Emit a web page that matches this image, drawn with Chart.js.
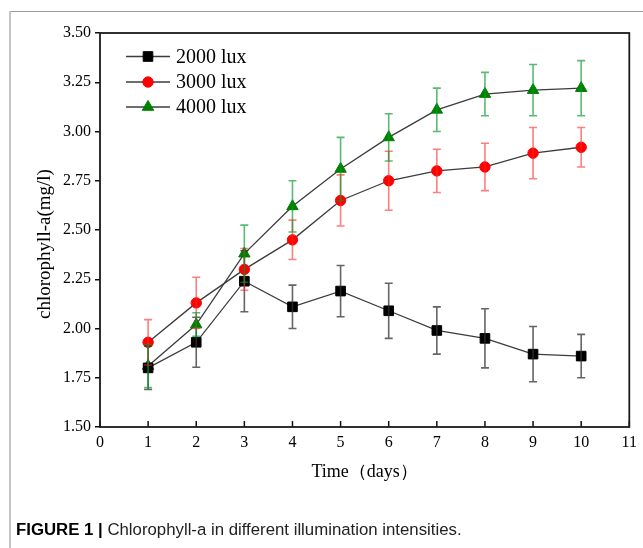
<!DOCTYPE html>
<html>
<head>
<meta charset="utf-8">
<script src="https://cdn.jsdelivr.net/npm/chart.js@4.4.1/dist/chart.umd.min.js"></script>
<style>
  html, body { margin: 0; padding: 0; background: #fff; }
  #wrap { position: relative; width: 643px; height: 548px; overflow: hidden; }
  #c { position: absolute; left: 0; top: 0; }
  #frameTop { position: absolute; left: 10px; top: 11px; width: 633px; height: 0; border-top: 1px solid #9a9a9a; }
  #frameLeft { position: absolute; left: 9px; top: 11px; width: 0; height: 537px; border-left: 2px solid #c4c4c4; }
  #caption { position: absolute; left: 16px; top: 520px; font-family: "Liberation Sans", Arial, sans-serif; font-size: 16.8px; color: #222; white-space: nowrap; }
  #caption b { color: #000; }
</style>
</head>
<body>
<div id="wrap">
  <canvas id="c" width="643" height="548"></canvas>
  <div id="frameTop"></div>
  <div id="frameLeft"></div>
  <div id="caption"><b>FIGURE 1 |</b> Chlorophyll-a in different illumination intensities.</div>
</div>
<script>
// ---- data ----
const days = [1, 2, 3, 4, 5, 6, 7, 8, 9, 10];
const seriesNames = ["2000 lux", "3000 lux", "4000 lux"];
const lux2000 = [1.80, 1.93, 2.24, 2.11, 2.19, 2.09, 1.99, 1.95, 1.87, 1.86];
const err2000 = [0.11, 0.127, 0.155, 0.11, 0.13, 0.14, 0.12, 0.15, 0.14, 0.11];
const lux3000 = [1.93, 2.13, 2.30, 2.45, 2.65, 2.75, 2.80, 2.82, 2.89, 2.92];
const err3000 = [0.115, 0.13, 0.106, 0.10, 0.13, 0.15, 0.11, 0.12, 0.13, 0.10];
const lux4000 = [1.81, 2.02, 2.38, 2.62, 2.81, 2.97, 3.11, 3.19, 3.21, 3.22];
const err4000 = [0.11, 0.06, 0.145, 0.13, 0.16, 0.12, 0.11, 0.11, 0.13, 0.14];
const xTitle = "Time\uFF08days\uFF09";
const yTitle = "chlorophyll-a(mg/l)";

const SERIF = "'Liberation Serif', 'Times New Roman', serif";
const markerColors = ["#000000", "#ff0000", "#008000"];
const markerStyles = ["rect", "circle", "triangle"];
const markerRadius = [6.8, 5.2, 6.6];
const errColors = ["rgba(50,50,50,0.75)", "rgba(255,40,40,0.6)", "rgba(0,150,40,0.65)"];
const values = [lux2000, lux3000, lux4000];
const errors = [err2000, err3000, err4000];

const datasets = values.map((vals, i) => ({
  label: seriesNames[i],
  data: days.map((d, j) => ({ x: d, y: vals[j] })),
  borderColor: "#3c3c3c",
  borderWidth: 1.3,
  pointStyle: markerStyles[i],
  pointRadius: markerRadius[i],
  pointHoverRadius: markerRadius[i],
  pointBackgroundColor: markerColors[i],
  pointBorderColor: markerColors[i],
  pointBorderWidth: 1,
  tension: 0,
  fill: false
}));

const errorBarPlugin = {
  id: "errorBars",
  afterDatasetsDraw(chart) {
    const ctx = chart.ctx;
    const xs = chart.scales.x, ys = chart.scales.y;
    ctx.save();
    errors.forEach((errs, i) => {
      ctx.strokeStyle = errColors[i];
      ctx.lineWidth = 1.6;
      days.forEach((d, j) => {
        const x = xs.getPixelForValue(d);
        const yt = ys.getPixelForValue(values[i][j] + errs[j]);
        const yb = ys.getPixelForValue(values[i][j] - errs[j]);
        ctx.beginPath();
        ctx.moveTo(x, yt); ctx.lineTo(x, yb);
        ctx.moveTo(x - 4, yt); ctx.lineTo(x + 4, yt);
        ctx.moveTo(x - 4, yb); ctx.lineTo(x + 4, yb);
        ctx.stroke();
      });
    });
    ctx.restore();
  }
};

const framePlugin = {
  id: "frame",
  afterDraw(chart) {
    const ctx = chart.ctx;
    const a = chart.chartArea;
    const xs = chart.scales.x;
    ctx.save();
    // inward x ticks
    ctx.strokeStyle = "#111";
    ctx.lineWidth = 1.5;
    xs.ticks.forEach(t => {
      const x = xs.getPixelForValue(t.value);
      ctx.beginPath();
      ctx.moveTo(x, a.bottom);
      ctx.lineTo(x, a.bottom - 6);
      ctx.stroke();
    });
    // plot frame
    ctx.strokeStyle = "#1a1a1a";
    ctx.lineWidth = 1.8;
    ctx.strokeRect(a.left, a.top, a.right - a.left, a.bottom - a.top);
    // y title
    ctx.fillStyle = "#000";
    ctx.font = "19px " + SERIF;
    ctx.textAlign = "center";
    ctx.textBaseline = "middle";
    ctx.translate(45, (a.top + a.bottom) / 2 + 14);
    ctx.rotate(-Math.PI / 2);
    ctx.fillText(yTitle, 0, 0);
    ctx.restore();

    // legend
    ctx.save();
    const lx0 = a.left + 26, lx1 = a.left + 70, mx = a.left + 48;
    const rows = [a.top + 23.5, a.top + 49, a.top + 74];
    seriesNames.forEach((name, i) => {
      const y = rows[i];
      ctx.strokeStyle = "#3c3c3c";
      ctx.lineWidth = 1.3;
      ctx.beginPath(); ctx.moveTo(lx0, y); ctx.lineTo(lx1, y); ctx.stroke();
      ctx.fillStyle = markerColors[i];
      ctx.strokeStyle = markerColors[i];
      ctx.lineWidth = 1;
      Chart.helpers.drawPoint(ctx, { pointStyle: markerStyles[i], radius: markerRadius[i], rotation: 0, borderWidth: 1 }, mx, y);
      ctx.fillStyle = "#000";
      ctx.font = "20px " + SERIF;
      ctx.textAlign = "left";
      ctx.textBaseline = "middle";
      ctx.fillText(name, a.left + 76, y + 1);
    });
    ctx.restore();
  }
};

new Chart(document.getElementById("c"), {
  type: "line",
  data: { datasets },
  plugins: [errorBarPlugin, framePlugin],
  options: {
    responsive: false,
    animation: false,
    devicePixelRatio: 1,
    layout: { padding: { top: 33, right: 12, left: 0, bottom: 0 } },
    plugins: { legend: { display: false }, tooltip: { enabled: false } },
    scales: {
      x: {
        type: "linear",
        min: 0, max: 11,
        ticks: { stepSize: 1, color: "#000", font: { family: SERIF, size: 16 }, padding: 6, maxRotation: 0 },
        grid: { display: false, drawTicks: false },
        border: { display: false },
        title: { display: true, text: xTitle, color: "#000", font: { family: SERIF, size: 18 }, padding: { top: 0, bottom: 65 } },
        afterFit(s) { s.height = 121; }
      },
      y: {
        type: "linear",
        min: 1.5, max: 3.5,
        ticks: { stepSize: 0.25, color: "#000", font: { family: SERIF, size: 16 }, padding: 4,
                 callback: v => Number(v).toFixed(2) },
        grid: { display: true, drawOnChartArea: false, drawTicks: true, tickLength: 5, color: "#111", lineWidth: 1.5 },
        border: { display: false },
        afterFit(s) { s.width = 100; }
      }
    }
  }
});
</script>
</body>
</html>
